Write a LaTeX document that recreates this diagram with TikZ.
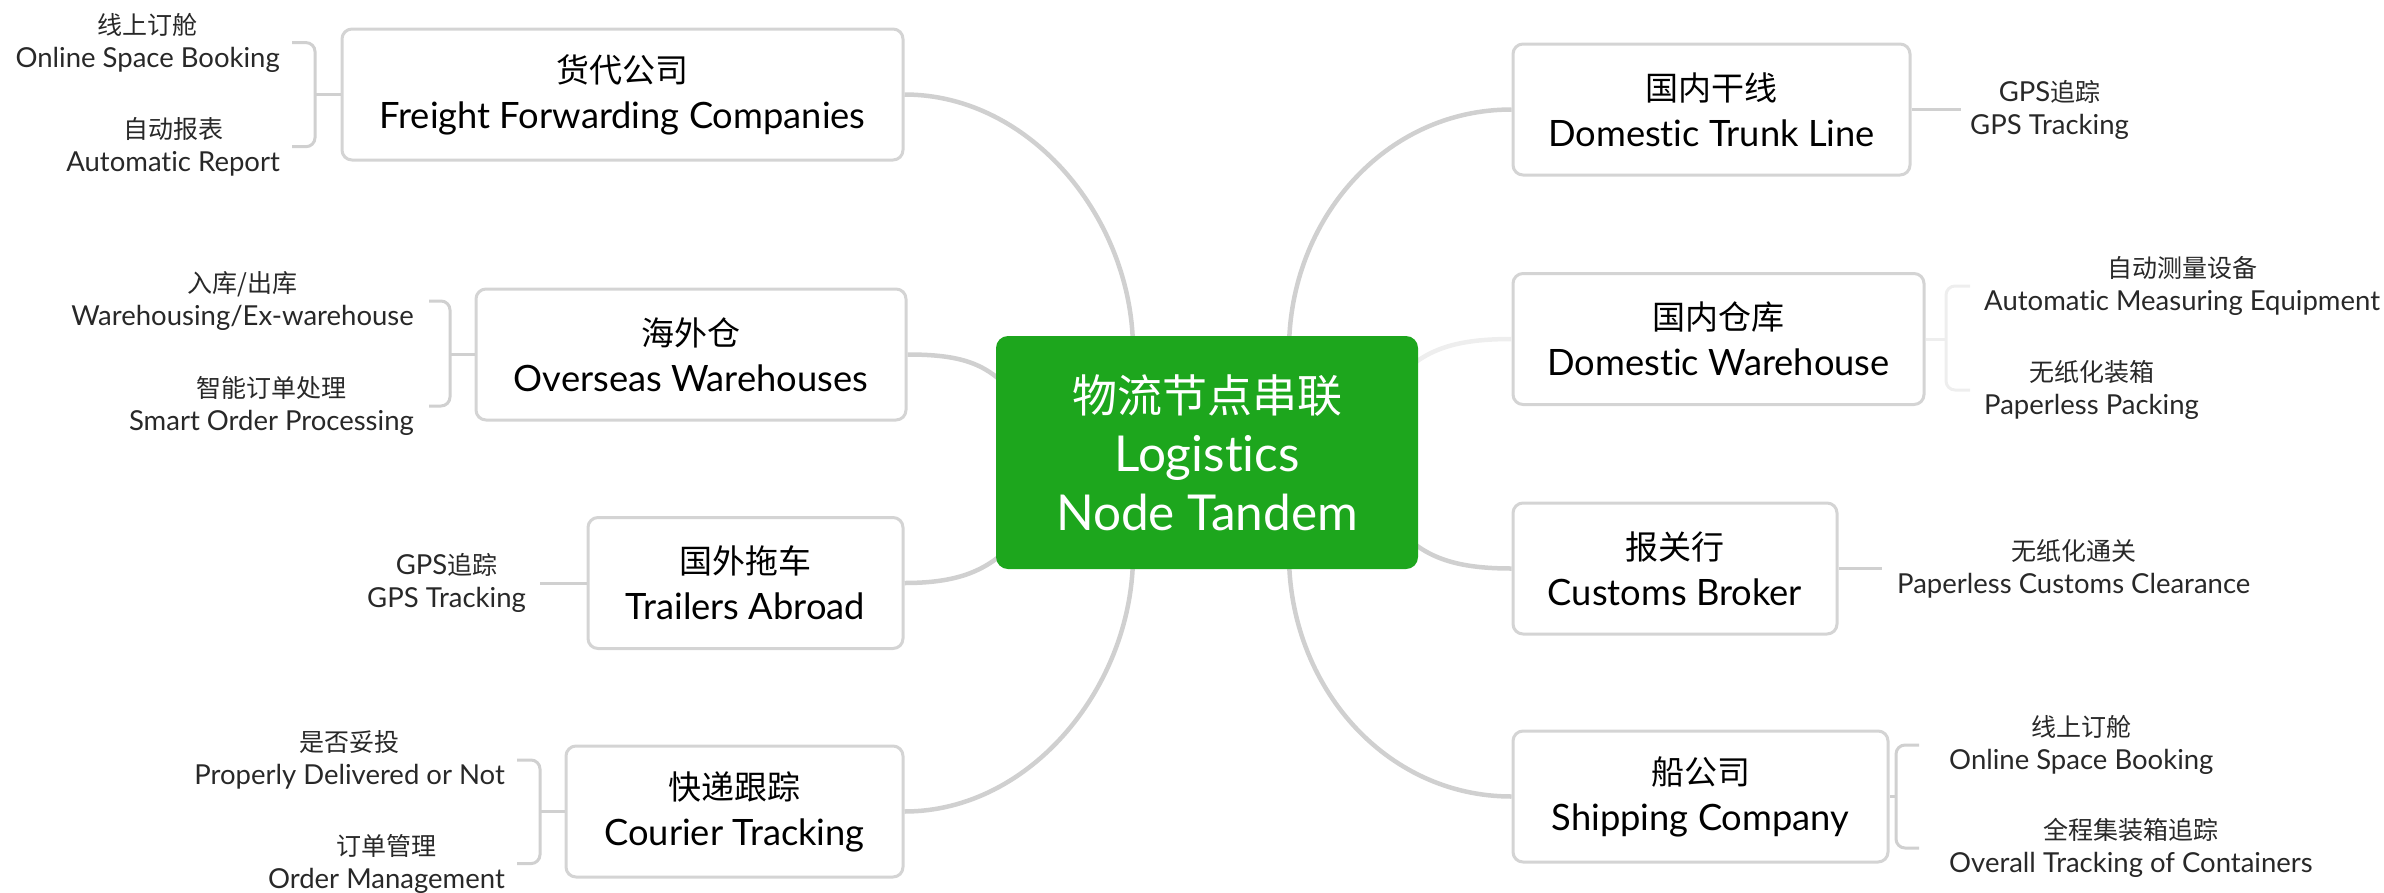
\documentclass[tikz,border=0pt]{standalone}
\usepackage{fontspec}
\setmainfont{Lato}[Scale=1.1,Ligatures=NoCommon]
\newfontfamily\cjk{Noto Sans CJK SC}
\newcommand{\zh}[1]{{\cjk #1}}
\definecolor{hubgreen}{RGB}{29,166,29}
\definecolor{boxline}{RGB}{212,212,212}
\definecolor{conline}{RGB}{208,208,208}
\definecolor{faintline}{RGB}{238,238,238}
\definecolor{subtext}{RGB}{40,40,40}
\begin{document}
\begin{tikzpicture}[x=1pt,y=-1pt,
  topic/.style={draw=boxline, line width=3pt, fill=white, rounded corners=10pt,
    minimum height=131pt, inner sep=0pt, align=center,
    font=\fontsize{33}{46}\selectfont, text=black},
  hub/.style={fill=hubgreen, rounded corners=12pt, minimum width=422pt,
    minimum height=233pt, inner sep=0pt, align=center, text=white,
    font=\fontsize{45}{59}\selectfont},
  leafL/.style={anchor=east, inner xsep=12pt, inner ysep=0pt, align=center,
    font=\fontsize{25}{33}\selectfont, text=subtext},
  leafR/.style={anchor=west, inner xsep=12pt, inner ysep=0pt, align=center,
    font=\fontsize{25}{33}\selectfont, text=subtext},
  conn/.style={draw=conline, line width=4.5pt},
  br/.style={draw=conline, line width=3pt, rounded corners=9pt},
]
\path[use as bounding box] (0,0) rectangle (2384,892);

% ---------- topic boxes ----------
\node[topic, minimum width=561pt] (ff) at (622.5,94.5) {\zh{货代公司}\\Freight Forwarding Companies};
\node[topic, minimum width=430pt] (ow) at (691,354.5) {\zh{海外仓}\\Overseas Warehouses};
\node[topic, minimum width=315pt] (ta) at (745.5,583) {\zh{国外拖车}\\Trailers Abroad};
\node[topic, minimum width=337pt] (ct) at (734.5,811.5) {\zh{快递跟踪}\\Courier Tracking};
\node[topic, minimum width=397pt] (dt) at (1711.5,109.5) {\zh{国内干线}\\Domestic Trunk Line};
\node[topic, minimum width=411pt] (dw) at (1718.5,339) {\zh{国内仓库}\\Domestic Warehouse};
\node[topic, minimum width=324pt] (cb) at (1675,568.5) {\zh{报关行}\\Customs Broker};
\node[topic, minimum width=375pt] (sc) at (1700.5,796.5) {\zh{船公司}\\Shipping Company};

% ---------- hub connection points ----------
\coordinate (hFF) at (1133,350);
\coordinate (hCT) at (1133,555);
\coordinate (hDT) at (1289,350);
\coordinate (hSC) at (1289,555);
\coordinate (hOW) at (1012,392);
\coordinate (hTA) at (1012,545);
\coordinate (hDW) at (1402,374);
\coordinate (hCB) at (1402,533);

\draw[conn] (ff.east) .. controls +(127,0) and +(0,-130) .. (hFF);
\draw[conn] (ct.east) .. controls +(127,0) and +(0,130) .. (hCT);
\draw[conn] (dt.west) .. controls +(-127,0) and +(0,-130) .. (hDT);
\draw[conn] (sc.west) .. controls +(-127,0) and +(0,130) .. (hSC);
\draw[conn] (ow.east) .. controls +(55,0) and +(-25,-28) .. (hOW);
\draw[conn] (ta.east) .. controls +(55,0) and +(-25,25) .. (hTA);
\draw[conn, draw=faintline] (dw.west) .. controls +(-55,0) and +(25,-25) .. (hDW);
\draw[conn] (cb.west) .. controls +(-55,0) and +(25,25) .. (hCB);

% ---------- hub ----------
\node[hub] (hub) at (1207,452.5) {\zh{物流节点串联}\\Logistics\\Node Tandem};

% ---------- left leaves ----------
\node[leafL] (ff1) at (292,42.6) {\zh{线上订舱}\\Online Space Booking};
\node[leafL] (ff2) at (292,146.7) {\zh{自动报表}\\Automatic Report};
\coordinate (ffb) at (315,94.5);
\draw[br] (ff1.east) -| (ffb) |- (ff2.east);
\draw[br] (ffb) -- (ff.west);

\node[leafL, inner xsep=15pt] (ow1) at (429,301) {\zh{入库/出库}\\Warehousing/Ex-warehouse};
\node[leafL, inner xsep=15pt] (ow2) at (429,406) {\zh{智能订单处理}\\Smart Order Processing};
\coordinate (owb) at (450,354.5);
\draw[br] (ow1.east) -| (owb) |- (ow2.east);
\draw[br] (owb) -- (ow.west);

\node[leafL, inner xsep=14pt] (ta1) at (540,583) {GPS\zh{追踪}\\GPS Tracking};
\draw[br] (ta1.east) -- (ta.west);

\node[leafL] (ct1) at (517,760) {\zh{是否妥投}\\Properly Delivered or Not};
\node[leafL] (ct2) at (517,863.6) {\zh{订单管理}\\Order Management};
\coordinate (ctb) at (540,811.5);
\draw[br] (ct1.east) -| (ctb) |- (ct2.east);
\draw[br] (ctb) -- (ct.west);

% ---------- right leaves ----------
\node[leafR, inner xsep=9pt] (dt1) at (1961,109.5) {GPS\zh{追踪}\\GPS Tracking};
\draw[br] (dt.east) -- (dt1.west);

\node[leafR, inner xsep=14pt] (dw1) at (1970,286) {\zh{自动测量设备}\\Automatic Measuring Equipment};
\node[leafR, inner xsep=14pt] (dw2) at (1970,390) {\zh{无纸化装箱}\\Paperless Packing};
\coordinate (dwb) at (1946,339);
\draw[br, draw=faintline] (dw1.west) -| (dwb) |- (dw2.west);
\draw[br, draw=faintline] (dwb) -- (dw.east);

\node[leafR, inner xsep=15pt] (cb1) at (1882,568.5) {\zh{无纸化通关}\\Paperless Customs Clearance};
\draw[br] (cb.east) -- (cb1.west);

\node[leafR, inner xsep=30pt] (sc1) at (1919,745) {\zh{线上订舱}\\Online Space Booking};
\node[leafR, inner xsep=30pt] (sc2) at (1919,848) {\zh{全程集装箱追踪}\\Overall Tracking of Containers};
\coordinate (scb) at (1896,796.5);
\draw[br] (sc1.west) -| (scb) |- (sc2.west);
\draw[br] (scb) -- (sc.east);
\end{tikzpicture}
\end{document}
